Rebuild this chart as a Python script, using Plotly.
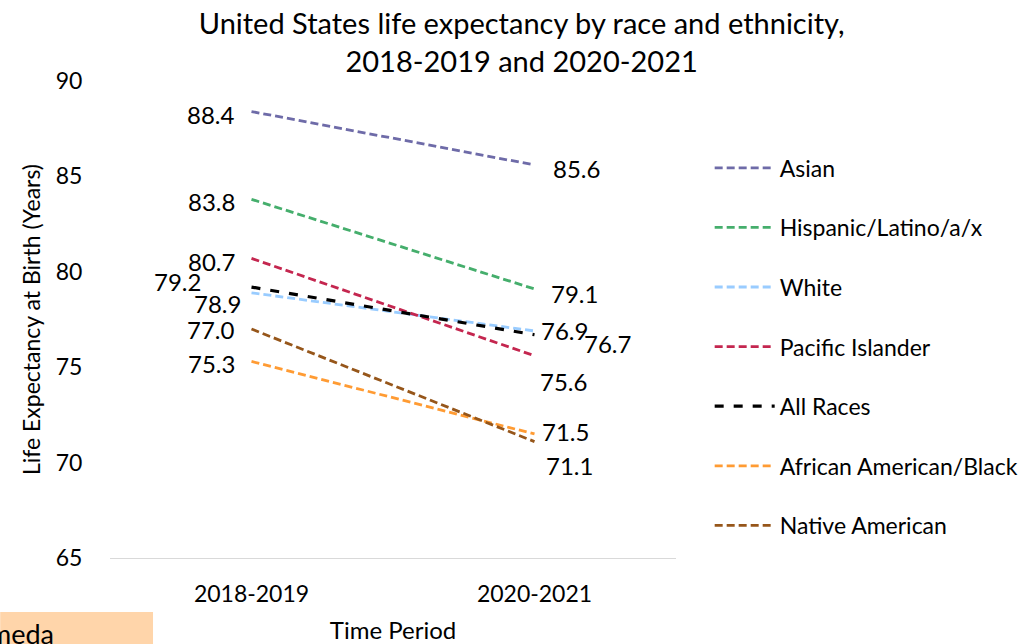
import plotly.graph_objects as go

periods = ["2018-2019", "2020-2021"]

groups = ["Asian", "Hispanic/Latino/a/x", "White", "Pacific Islander",
          "All Races", "African American/Black", "Native American"]
first = [88.4, 83.8, 78.9, 80.7, 79.2, 75.3, 77.0]
second = [85.6, 79.1, 76.9, 75.6, 76.7, 71.5, 71.1]

colors = ["#6E6BA8", "#45AE6C", "#99CCFF", "#C4264F", "#000000", "#FF9B33", "#96561A"]

# label nudges in pixels (x, y) for left and right points
left_shift = [(-15, -3), (-15, -2), (-9, -11), (-15, -3), (-49, 6), (-15, -2), (-15, 0)]
right_shift = [(16, -4), (14, -5), (4, 0), (3, -26), (47, -9), (5, 2), (9, -24)]

font = "Lato"
fs = 23

fig = go.Figure()
for i, g in enumerate(groups):
    if g == "All Races":
        line = dict(color=colors[i], width=3.2, dash="9px,10px")
    else:
        line = dict(color=colors[i], width=2.8, dash="8px,4px")
    fig.add_trace(go.Scatter(x=periods, y=[first[i], second[i]], mode="lines",
                             name=g, line=line, legendgroup=g))
    fig.add_annotation(x=periods[0], y=first[i], text=f"{first[i]:.1f}", showarrow=False,
                       xanchor="right", yanchor="middle",
                       xshift=left_shift[i][0], yshift=left_shift[i][1],
                       font=dict(size=24, color="black", family=font))
    fig.add_annotation(x=periods[1], y=second[i], text=f"{second[i]:.1f}", showarrow=False,
                       xanchor="left", yanchor="middle",
                       xshift=right_shift[i][0], yshift=right_shift[i][1],
                       font=dict(size=24, color="black", family=font))

# cut-off note box at the bottom left
fig.add_shape(type="rect", xref="paper", yref="paper", x0=-0.194, x1=0.076, y0=-0.19, y1=-0.113,
              fillcolor="#FFD5AA", line_width=0, layer="below")
fig.add_annotation(xref="paper", yref="paper", x=-0.095, y=-0.158, text="Alameda",
                   showarrow=False, xanchor="right", yanchor="middle",
                   font=dict(size=27, color="black", family=font))

fig.update_layout(
    width=1035, height=644,
    paper_bgcolor="white", plot_bgcolor="white",
    margin=dict(l=110, r=357, t=81, b=86),
    font=dict(family=font, size=fs, color="black"),
    title=dict(text="United States life expectancy by race and ethnicity,<br>2018-2019 and 2020-2021",
               x=0.504, xanchor="center", y=0.947, yanchor="top",
               font=dict(size=29, color="black", family=font)),
    legend=dict(x=1.0595, xanchor="left", y=0.863, yanchor="top",
                traceorder="grouped", tracegroupgap=26.7, itemwidth=60,
                font=dict(size=23, family=font)),
)
fig.update_xaxes(range=[-0.5, 1.5], showgrid=False, showline=True, linecolor="#D9D9D9",
                 linewidth=1, ticks="outside", ticklen=15, tickcolor="rgba(0,0,0,0)",
                 automargin=False,
                 title=dict(text="Time Period", standoff=16, font=dict(size=24)),
                 tickfont=dict(size=fs))
fig.update_yaxes(range=[65, 90], dtick=5, showgrid=False, showline=False, zeroline=False,
                 ticks="outside", ticklen=22, tickcolor="rgba(0,0,0,0)",
                 automargin=False,
                 title=dict(text="Life Expectancy at Birth (Years)", standoff=8, font=dict(size=fs)),
                 tickfont=dict(size=fs))

fig.write_html("out.html", config={"displayModeBar": False},
               post_script="document.body.style.margin='0';")
